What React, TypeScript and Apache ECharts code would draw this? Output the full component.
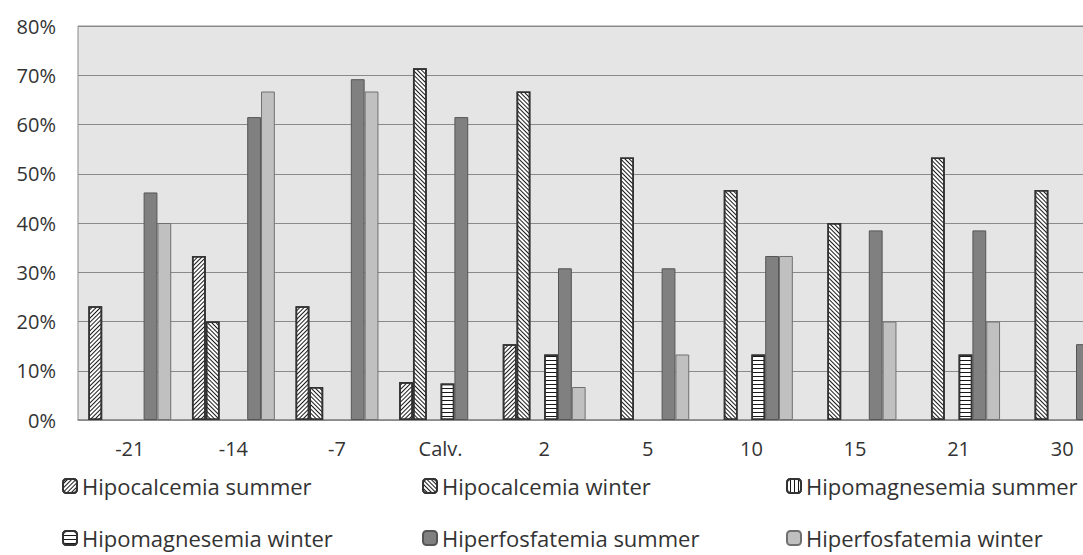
import React, { useEffect, useRef } from "react";
import * as echarts from "echarts";

const categories = ["-21", "-14", "-7", "Calv.", "2", "5", "10", "15", "21", "30"];
const yTicks = [0, 10, 20, 30, 40, 50, 60, 70, 80];

const hipocalcemiaSummer = [23.1, 33.3, 23.1, 7.7, 15.4, 0, 0, 0, 0, 0];
const hipocalcemiaWinter = [0, 20.0, 6.7, 71.4, 66.7, 53.3, 46.7, 40.0, 53.3, 46.7];
const hipomagnesemiaSummer = [0, 0, 0, 0, 0, 0, 0, 0, 0, 0];
const hipomagnesemiaWinter = [0, 0, 0, 7.4, 13.3, 0, 13.3, 0, 13.3, 0];
const hiperfosfatemiaSummer = [46.2, 61.5, 69.2, 61.5, 30.8, 30.8, 33.3, 38.5, 38.5, 15.4];
const hiperfosfatemiaWinter = [40.0, 66.7, 66.7, 0, 6.7, 13.3, 33.3, 20.0, 20.0, 0];

const seriesNames = [
  "Hipocalcemia summer",
  "Hipocalcemia winter",
  "Hipomagnesemia summer",
  "Hipomagnesemia winter",
  "Hiperfosfatemia summer",
  "Hiperfosfatemia winter",
];

const FONT = "Open Sans";

export default function App() {
  const ref = useRef<HTMLDivElement>(null);
  useEffect(() => {
    if (!ref.current) return;
    const chart = echarts.init(ref.current, null, { renderer: "svg" });

    const stripe = (rotation: number, dy: number[]) => ({
      symbol: "rect",
      symbolSize: 1,
      dashArrayX: [1, 0],
      dashArrayY: dy,
      rotation,
      color: "#1a1a1a",
    });

    const styles: any[] = [
      { color: "#ffffff", borderColor: "#333", borderWidth: 1.6, decal: stripe(-Math.PI / 4, [1, 2]) },
      { color: "#ffffff", borderColor: "#333", borderWidth: 1.6, decal: stripe(Math.PI / 4, [1, 2]) },
      { color: "#ffffff", borderColor: "#333", borderWidth: 1.6, decal: stripe(Math.PI / 2, [1, 3]) },
      { color: "#ffffff", borderColor: "#333", borderWidth: 1.6, decal: stripe(0, [1, 3]) },
      { color: "#808080", borderColor: "#555", borderWidth: 1 },
      { color: "#c0c0c0", borderColor: "#707070", borderWidth: 1 },
    ];
    const dataArrays = [
      hipocalcemiaSummer,
      hipocalcemiaWinter,
      hipomagnesemiaSummer,
      hipomagnesemiaWinter,
      hiperfosfatemiaSummer,
      hiperfosfatemiaWinter,
    ];

    const legendPos = [
      { left: 62, top: 475 },
      { left: 422, top: 475 },
      { left: 786, top: 475 },
      { left: 62, top: 527 },
      { left: 422, top: 527 },
      { left: 786, top: 527 },
    ];

    chart.setOption({
      animation: false,
      backgroundColor: "#ffffff",
      aria: { enabled: false, decal: { show: false } },
      grid: {
        left: 78,
        top: 26,
        bottom: 135,
        right: 6,
        show: true,
        backgroundColor: "#e5e5e5",
        borderColor: "#8a8a8a",
        borderWidth: 1,
      },
      legend: seriesNames.map((n, i) => ({
        data: [n],
        left: legendPos[i].left,
        top: legendPos[i].top,
        padding: 0,
        itemWidth: 14,
        itemHeight: 14,
        itemGap: 6,
        selectedMode: false,
        textStyle: { fontFamily: FONT, fontSize: 22, lineHeight: 22, color: "#333", padding: [0, 0, 0, 0] },
      })),
      xAxis: {
        type: "category",
        data: categories,
        axisLine: { lineStyle: { color: "#8a8a8a", width: 1.5 } },
        axisTick: { show: false },
        axisLabel: { fontFamily: FONT, fontSize: 20, color: "#333", margin: 18 },
      },
      yAxis: {
        type: "value",
        min: yTicks[0],
        max: yTicks[yTicks.length - 1],
        interval: 10,
        axisLine: { show: false },
        axisTick: { show: false },
        splitLine: { lineStyle: { color: "#8a8a8a", width: 1 } },
        axisLabel: { fontFamily: FONT, fontSize: 20, color: "#333", margin: 22, formatter: "{value}%" },
      },
      series: dataArrays.map((arr, i) => ({
        name: seriesNames[i],
        type: "bar",
        barGap: "0%",
        barCategoryGap: "20%",
        data: arr.map((v) => (v === 0 ? null : v)),
        itemStyle: styles[i],
      })),
    });
    return () => chart.dispose();
  }, []);
  return (
    <div style={{ position: "fixed", left: 0, top: 0, width: 1083, height: 555, overflow: "hidden" }}>
      <div ref={ref} style={{ position: "absolute", left: 0, top: 0, width: 1120, height: 555 }} />
    </div>
  );
}
